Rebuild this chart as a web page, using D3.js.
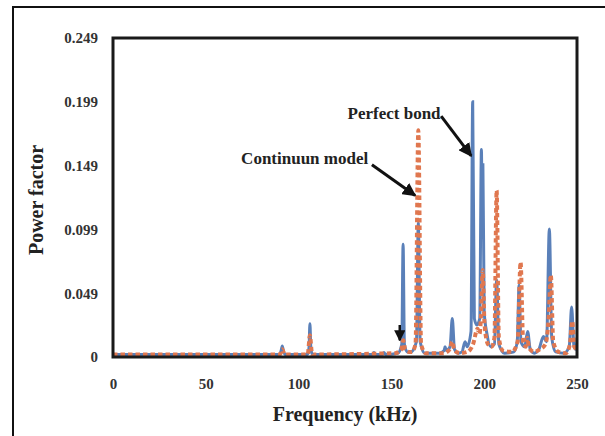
<!DOCTYPE html>
<html>
<head>
<meta charset="utf-8">
<script src="https://cdn.jsdelivr.net/npm/d3@7"></script>
<style>
  body { margin: 0; background: #fff; }
  text { font-family: "Liberation Serif", "Times New Roman", serif; font-weight: bold; }
</style>
</head>
<body>
<div class="canvas"></div>
<script>
// frequency (kHz), power factor
const perfectBond = [
    [0, 0.002], [89.8, 0.002], [90.6, 0.005], [91.2, 0.0086], [91.8, 0.005], [92.6, 0.002],
    [104.8, 0.002], [105.6, 0.007], [106.1, 0.026], [106.6, 0.007], [107.4, 0.002],
    [139.8, 0.002], [140.6, 0.0035], [141.4, 0.002], [145.2, 0.002], [146, 0.0035], [146.8, 0.002],
    [153.5, 0.003], [155.6, 0.01], [156.3, 0.088], [157, 0.01], [158.6, 0.004],
    [160.5, 0.004], [163.5, 0.012], [164.5, 0.105], [165.5, 0.012], [168, 0.003],
    [176, 0.003], [178.4, 0.005], [178.9, 0.008], [179.6, 0.005], [181.6, 0.008], [182.8, 0.030], [184, 0.006], [186, 0.003],
    [188, 0.004], [189.7, 0.012], [190.8, 0.008], [192.9, 0.02], [193.8, 0.1993], [194.7, 0.03], [196, 0.025],
    [197.6, 0.03], [198.5, 0.162], [198.9, 0.11], [199.3, 0.15], [200, 0.035], [201.5, 0.018], [203.5, 0.008],
    [205.5, 0.01], [206.7, 0.06], [207.9, 0.01], [211, 0.003],
    [216, 0.004], [217.8, 0.012], [218.8, 0.056], [219.8, 0.012], [221.8, 0.008], [223.4, 0.020], [224.8, 0.006], [227, 0.003],
    [229.5, 0.006], [231.9, 0.016], [233.6, 0.012], [235.1, 0.100], [236.4, 0.015], [238.5, 0.004],
    [243, 0.003], [245.8, 0.008], [247.1, 0.039], [248.4, 0.008], [249.4, 0.006], [250, 0.012]
]

const continuumModel = [
    [0, 0.002], [90, 0.002], [91.2, 0.006], [92.4, 0.002],
    [104.9, 0.002], [106.1, 0.017], [107.3, 0.002],
    [152, 0.003], [155.4, 0.006], [156.4, 0.013], [157.4, 0.006], [159.5, 0.004],
    [161, 0.004], [163, 0.01], [164.5, 0.177], [166, 0.01], [168.5, 0.003],
    [178, 0.003], [181.5, 0.006], [182.8, 0.012], [184, 0.005], [187, 0.003],
    [191, 0.004], [194, 0.01], [196.4, 0.022], [197.5, 0.018], [198.2, 0.03], [199.2, 0.068], [200.2, 0.025],
    [202, 0.01], [204, 0.008], [205.5, 0.015], [206.7, 0.130], [207.9, 0.015], [210, 0.005],
    [215, 0.004], [218, 0.012], [219.6, 0.074], [221, 0.012], [222.4, 0.008], [223.2, 0.015], [224.2, 0.007], [227, 0.004],
    [230, 0.006], [233, 0.01], [234.7, 0.03], [235.9, 0.064], [237.2, 0.012], [240, 0.004],
    [244, 0.003], [246.2, 0.01], [247.4, 0.028], [248.6, 0.008], [250, 0.006]
]

const xTicks = [0, 50, 100, 150, 200, 250]
const yTicks = [0, 0.0498, 0.0996, 0.1494, 0.1992, 0.249]
const yTickLabels = ['0', '0.049', '0.099', '0.149', '0.199', '0.249']

// annotations: label, text anchor point, arrow from, arrow to (data coords)
const labels = [
    { text: 'Perfect bond', at: [176.5, 0.186], from: [176.8, 0.188], to: [193, 0.157] },
    { text: 'Continuun model', at: [137.5, 0.151], from: [139.5, 0.150], to: [162.8, 0.126] }
]
const marker = { from: [154.5, 0.025], to: [154.5, 0.013] }

const dims = { width: 605, height: 436 }
const plot = { left: 113, right: 577, top: 38, bottom: 357 }

const svg = d3.select('.canvas')
    .append('svg')
    .attr('width', dims.width)
    .attr('height', dims.height)

// outer chart border (cut at right/bottom)
svg.append('path')
    .attr('d', `M13,${dims.height} V7 H${dims.width}`)
    .attr('fill', 'none')
    .attr('stroke', '#111')
    .attr('stroke-width', 2)

const x = d3.scaleLinear().domain([0, 250]).range([plot.left, plot.right])
const y = d3.scaleLinear().domain([0, 0.249]).range([plot.bottom, plot.top])

svg.append('defs').append('clipPath').attr('id', 'clip')
    .append('rect')
    .attr('x', plot.left).attr('y', plot.top)
    .attr('width', plot.right - plot.left).attr('height', plot.bottom - plot.top)

// axes, labels only
const xAxis = svg.append('g')
    .attr('transform', `translate(0, ${plot.bottom + 18})`)
    .call(d3.axisBottom(x).tickValues(xTicks).tickSize(0).tickFormat(d3.format('d')))
xAxis.select('.domain').remove()
xAxis.selectAll('text').attr('font-size', 15).attr('fill', '#333')
    .attr('font-family', '"Liberation Serif", serif').attr('font-weight', 'bold')

const yAxis = svg.append('g')
    .attr('transform', `translate(${plot.left - 12}, 0)`)
    .call(d3.axisLeft(y).tickValues(yTicks).tickSize(0).tickFormat((d, i) => yTickLabels[i]))
yAxis.select('.domain').remove()
yAxis.selectAll('text').attr('font-size', 15).attr('fill', '#333')
    .attr('font-family', '"Liberation Serif", serif').attr('font-weight', 'bold')

// axis titles
svg.append('text')
    .attr('x', (plot.left + plot.right) / 2)
    .attr('y', 421)
    .attr('text-anchor', 'middle')
    .attr('font-size', 20)
    .attr('fill', '#222')
    .text('Frequency (kHz)')

svg.append('text')
    .attr('transform', 'translate(43, 200) rotate(-90)')
    .attr('text-anchor', 'middle')
    .attr('font-size', 20)
    .attr('fill', '#222')
    .text('Power factor')

// series
const line = d3.line()
    .x(d => x(d[0]))
    .y(d => y(d[1]))
    .curve(d3.curveMonotoneX)

const graph = svg.append('g').attr('clip-path', 'url(#clip)')

graph.append('path')
    .datum(perfectBond)
    .attr('d', line)
    .attr('fill', 'none')
    .attr('stroke', '#5a80b9')
    .attr('stroke-width', 3)

graph.append('path')
    .datum(continuumModel)
    .attr('d', line)
    .attr('fill', 'none')
    .attr('stroke', '#e0774f')
    .attr('stroke-width', 4)
    .attr('stroke-dasharray', '4.5,3')

// plot frame
svg.append('rect')
    .attr('x', plot.left).attr('y', plot.top)
    .attr('width', plot.right - plot.left).attr('height', plot.bottom - plot.top)
    .attr('fill', 'none')
    .attr('stroke', '#1a1a1a')
    .attr('stroke-width', 3)

// annotations
svg.append('defs').append('marker')
    .attr('id', 'head')
    .attr('viewBox', '0 0 10 10')
    .attr('refX', 9).attr('refY', 5)
    .attr('markerWidth', 4.5).attr('markerHeight', 4.5)
    .attr('orient', 'auto')
    .append('path')
    .attr('d', 'M0,0 L10,5 L0,10 z')
    .attr('fill', '#111')

labels.forEach(l => {
    svg.append('text')
        .attr('x', x(l.at[0])).attr('y', y(l.at[1]))
        .attr('text-anchor', 'end')
        .attr('font-size', 17)
        .attr('fill', '#222')
        .text(l.text)
    svg.append('line')
        .attr('x1', x(l.from[0])).attr('y1', y(l.from[1]))
        .attr('x2', x(l.to[0])).attr('y2', y(l.to[1]))
        .attr('stroke', '#111')
        .attr('stroke-width', 3)
        .attr('marker-end', 'url(#head)')
})

svg.append('line')
    .attr('x1', x(marker.from[0])).attr('y1', y(marker.from[1]))
    .attr('x2', x(marker.to[0])).attr('y2', y(marker.to[1]))
    .attr('stroke', '#111')
    .attr('stroke-width', 2.5)
    .attr('marker-end', 'url(#head)')
</script>
</body>
</html>
